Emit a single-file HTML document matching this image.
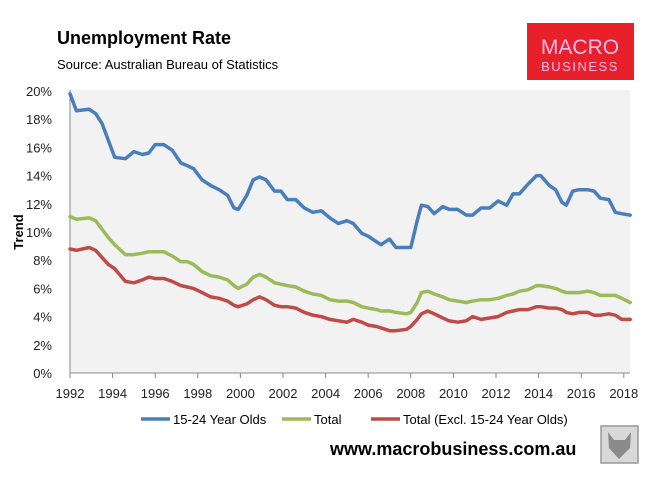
<!DOCTYPE html>
<html><head><meta charset="utf-8"><style>
body{margin:0;background:#fff;font-family:"Liberation Sans",sans-serif;}
svg text{font-family:"Liberation Sans",sans-serif;}
</style></head><body>
<svg width="650" height="481" viewBox="0 0 650 481">
<text x="57" y="44" font-size="18" font-weight="bold" fill="#000">Unemployment Rate</text>
<text x="57" y="69" font-size="13" fill="#000">Source: Australian Bureau of Statistics</text>
<g>
<rect x="527" y="23" width="107" height="57" fill="#e8202a"/>
<text x="580" y="54" font-size="21" fill="#fbe" text-anchor="middle">MACRO</text>
<text x="580" y="71" font-size="13" fill="#fbe" text-anchor="middle" letter-spacing="1.5">BUSINESS</text>
</g>
<rect x="70" y="90" width="560" height="283" fill="#f2f2f2"/>
<g id="yticks"></g><g id="xticks"></g><g id="series"></g>
<text transform="translate(23,232) rotate(-90)" font-size="13" font-weight="bold" text-anchor="middle">Trend</text>
<g>
<g><line x1="141" y1="419" x2="170" y2="419" stroke="#4a7ebb" stroke-width="3.5"/><text x="173" y="424" font-size="13">15-24 Year Olds</text></g>
<g><line x1="282" y1="419" x2="311" y2="419" stroke="#9bbb59" stroke-width="3.5"/><text x="314" y="424" font-size="13">Total</text></g>
<g><line x1="371" y1="419" x2="400" y2="419" stroke="#be4b48" stroke-width="3.5"/><text x="403" y="424" font-size="13">Total (Excl. 15-24 Year Olds)</text></g>
</g>
<text x="330" y="455" font-size="18" font-weight="bold">www.macrobusiness.com.au</text>
<g><rect x="601" y="426" width="37" height="37" fill="#d8d8d8" stroke="#999" stroke-width="1.5"/><path d="M608 432 L614 440 L625 440 L631 432 L630 448 L619 459 L609 448 Z" fill="#8a8a8a"/></g>
</svg>
<script>
const years=[1992.0,1992.3,1992.9,1993.2,1993.5,1993.8,1994.1,1994.6,1995.0,1995.4,1995.7,1996.0,1996.4,1996.8,1997.2,1997.5,1997.8,1998.2,1998.6,1999.0,1999.4,1999.7,1999.9,2000.3,2000.6,2000.9,2001.2,2001.6,2001.9,2002.2,2002.6,2003.0,2003.4,2003.8,2004.2,2004.6,2005.0,2005.3,2005.7,2006.0,2006.4,2006.6,2007.0,2007.3,2007.8,2008.0,2008.3,2008.5,2008.8,2009.1,2009.5,2009.8,2010.2,2010.6,2010.9,2011.3,2011.7,2012.1,2012.5,2012.8,2013.1,2013.5,2013.9,2014.1,2014.5,2014.8,2015.1,2015.3,2015.6,2015.9,2016.3,2016.6,2016.9,2017.3,2017.6,2017.9,2018.3];
const youth=[19.8,18.6,18.7,18.4,17.7,16.5,15.3,15.2,15.7,15.5,15.6,16.2,16.2,15.8,14.9,14.7,14.5,13.7,13.3,13.0,12.6,11.7,11.6,12.6,13.7,13.9,13.7,12.9,12.9,12.3,12.3,11.7,11.4,11.5,11.0,10.6,10.8,10.6,9.9,9.7,9.3,9.1,9.5,8.9,8.9,8.9,10.8,11.9,11.8,11.3,11.8,11.6,11.6,11.2,11.2,11.7,11.7,12.2,11.9,12.7,12.7,13.4,14.0,14.0,13.3,13.0,12.1,11.9,12.9,13.0,13.0,12.9,12.4,12.3,11.4,11.3,11.2];
const total=[11.1,10.9,11.0,10.8,10.2,9.6,9.1,8.4,8.4,8.5,8.6,8.6,8.6,8.3,7.9,7.9,7.7,7.2,6.9,6.8,6.6,6.2,6.0,6.3,6.8,7.0,6.8,6.4,6.3,6.2,6.1,5.8,5.6,5.5,5.2,5.1,5.1,5.0,4.7,4.6,4.5,4.4,4.4,4.3,4.2,4.3,5.0,5.7,5.8,5.6,5.4,5.2,5.1,5.0,5.1,5.2,5.2,5.3,5.5,5.6,5.8,5.9,6.2,6.2,6.1,6.0,5.8,5.7,5.7,5.7,5.8,5.7,5.5,5.5,5.5,5.3,5.0];
const totalExcl=[8.8,8.7,8.9,8.7,8.2,7.7,7.4,6.5,6.4,6.6,6.8,6.7,6.7,6.5,6.2,6.1,6.0,5.7,5.4,5.3,5.1,4.8,4.7,4.9,5.2,5.4,5.2,4.8,4.7,4.7,4.6,4.3,4.1,4.0,3.8,3.7,3.6,3.8,3.6,3.4,3.3,3.2,3.0,3.0,3.1,3.3,3.8,4.2,4.4,4.2,3.9,3.7,3.6,3.7,4.0,3.8,3.9,4.0,4.3,4.4,4.5,4.5,4.7,4.7,4.6,4.6,4.5,4.3,4.2,4.3,4.3,4.1,4.1,4.2,4.1,3.8,3.8];
const yTicks=[0,2,4,6,8,10,12,14,16,18,20];
const xTicks=[1992,1994,1996,1998,2000,2002,2004,2006,2008,2010,2012,2014,2016,2018];
const NS="http://www.w3.org/2000/svg";
function X(yr){return 70+(yr-1992)*21.3;}
function Y(v){return 373-v*14.1;}
function mk(tag,attrs,parent){const e=document.createElementNS(NS,tag);for(const k in attrs)e.setAttribute(k,attrs[k]);parent.appendChild(e);return e;}
const yg=document.getElementById('yticks'),xg=document.getElementById('xticks'),sg=document.getElementById('series');
yTicks.forEach(v=>{const t=mk('text',{x:52,y:Y(v)+5,'font-size':13,'text-anchor':'end',fill:'#222'},yg);t.textContent=v+'%';

});
const ax=mk('line',{x1:70,y1:373,x2:630,y2:373,stroke:'#888','stroke-width':1},xg);


const ay=mk('line',{x1:70,y1:90,x2:70,y2:373,stroke:'#888','stroke-width':1},xg);


xTicks.forEach(v=>{const l=mk('line',{x1:X(v),y1:373,x2:X(v),y2:378,stroke:'#888'},xg);


const t=mk('text',{x:X(v),y:398,'font-size':13,'text-anchor':'middle',fill:'#222'},xg);t.textContent=v;

});
function line(vals,color,name){const n=Math.min(years.length,vals.length);let d='';for(let i=0;i<n;i++)d+=(i?'L':'M')+X(years[i]).toFixed(1)+' '+Y(vals[i]).toFixed(1);
const p=mk('path',{d:d,fill:'none',stroke:color,'stroke-width':3.5,'stroke-linejoin':'round','stroke-linecap':'round'},sg);

}
line(totalExcl,'#be4b48','series-total-excl-youth');
line(total,'#9bbb59','series-total');
line(youth,'#4a7ebb','series-15-24-year-olds');
</script>
</body></html>
